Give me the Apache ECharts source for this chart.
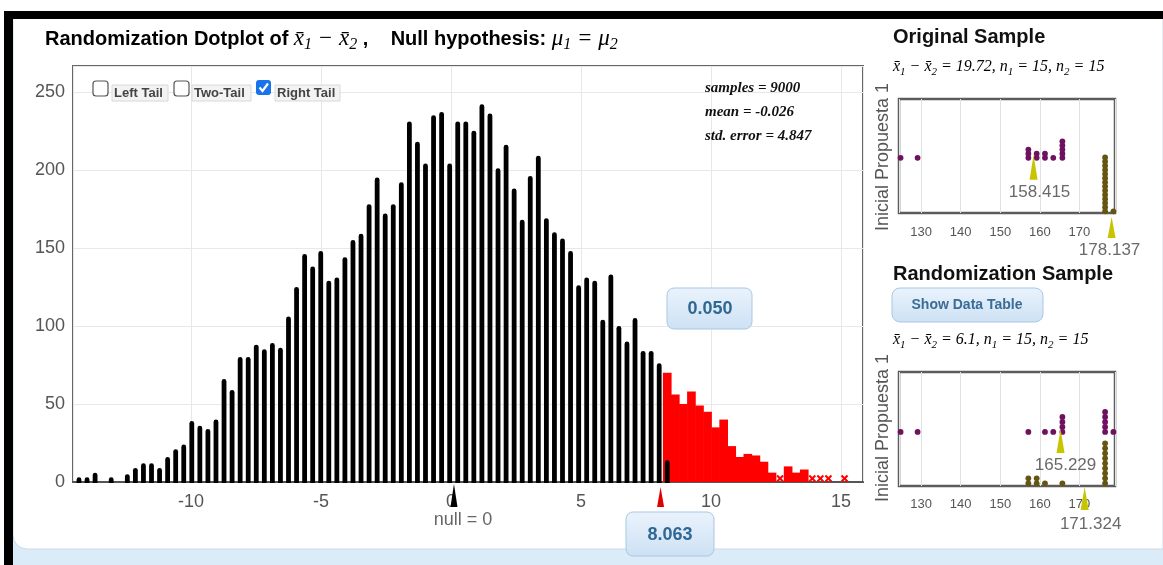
<!DOCTYPE html>
<html><head><meta charset="utf-8">
<script src="https://cdn.jsdelivr.net/npm/echarts@6/dist/echarts.min.js"></script>
<style>html,body{margin:0;padding:0;background:#fff;overflow:hidden}#c{width:1163px;height:565px}</style>
</head><body><div id="c"></div>
<script>
// ================= DATA =================
// Randomization dotplot: dot columns, x = binStart + i*binWidth
const binStart = -14.31;
const binWidth = 0.31;
// column heights (y-axis units) for columns below the cut-off (black dots)
const blackHeights = [3,3,6,0,3,0,5,9,12,12, 9,16,21,24,39,36,34,40,66,59,
  80,80,88,85,89,86,106,125,146,138, 148,129,131,144,155,159,178,195,172,178,
  192,231,218,204,235,237,204,231,231,225, 242,236,201,216,188,168,196,209,169,160,
  156,148,126,131,129,104,133,100,90,105, 84,84,76,14];
// red (right tail) columns start at this column index
const redStartIndex = 73;
const redHeights = [70,56,50,58,49,45,35,40,23,16,18,17,13,6,3,10,6,8,4.5,4,4,0,4];
const nullValue = 0;
const observedStat = 8.063;
const pValue = '0.050';
const statsLines = ['samples = 9000', 'mean = -0.026', 'std. error = 4.847'];
const tailOptions = ['Left Tail', 'Two-Tail', 'Right Tail'];

// Original sample (values per group)
const groupNames = ['Inicial', 'Propuesta 1'];
const origPropuesta = [124.8,129.1,157.1,157.1,157.1,159.2,159.2,161.3,161.3,163.4,165.7,165.7,165.7,165.7,165.7];
const origInicial = [176.5,176.5,176.5,176.5,176.5,176.5,176.5,176.5,176.5,176.5,176.5,176.5,176.5,176.5,178.6];
const origMeans = [158.415, 178.137];   // Propuesta 1, Inicial
// Randomization sample
const randPropuesta = [124.8,129.1,157.1,161.3,163.4,165.7,165.7,165.7,165.7,176.5,176.5,176.5,176.5,176.5,178.6];
const randInicial = [157.1,157.1,159.2,159.2,161.3,165.7,176.5,176.5,176.5,176.5,176.5,176.5,176.5,176.5,176.5];
const randMeans = [165.229, 171.324];
const origStatText = ['19.72', '15', '15'];
const randStatText = ['6.1', '15', '15'];

// ================= BUILD =================
const blackData = blackHeights.map((h, i) => [binStart + i * binWidth, h]);
const redData = redHeights.map((h, i) => [binStart + (redStartIndex + i) * binWidth, h]);

function stackDots(vals, base) {
  const cnt = {};
  return vals.map(v => { const k = v.toFixed(2); cnt[k] = (cnt[k] || 0); const y = base + cnt[k]; cnt[k]++; return [v, y]; });
}
const ORIG_PURPLE_BASE = 12.9, RAND_PURPLE_BASE = 10.3;
const PURPLE = '#701060', OLIVE = '#645612', ARROW = '#c9c400';

const numFont = "'Liberation Sans Narrow','Arial Narrow','Liberation Sans',sans-serif";
const sans = "'Liberation Sans',Arial,sans-serif";
const serif = "'Liberation Serif','Times New Roman',serif";

function mathRich(size, color, tsize) {
  return {
    t: {fontFamily: sans, fontWeight: 'bold', fontSize: tsize || 20, color: '#111', verticalAlign: 'bottom', padding: [0,0,4,0]},
    m: {fontFamily: serif, fontStyle: 'italic', fontSize: size, color: color, verticalAlign: 'bottom', padding: [0,0,3,0]},
    s: {fontFamily: serif, fontStyle: 'italic', fontSize: Math.round(size * 0.7), color: color, verticalAlign: 'bottom'}
  };
}
function statLine(vals) {
  return '{m|x\u0304}{s|1}{m| \u2212 x\u0304}{s|2}{m| = ' + vals[0] + ', n}{s|1}{m| = ' + vals[1] + ', n}{s|2}{m| = ' + vals[2] + '}';
}

function renderBlack(params, api) {
  const x = api.value(0), v = api.value(1);
  if (!v) return null;
  const top = api.coord([x, v]), base = api.coord([x, 0]);
  const w = 4.8;
  return {type: 'rect', shape: {x: top[0] - w / 2, y: top[1], width: w, height: base[1] - top[1] + 1, r: [2.4, 2.4, 0, 0]}, style: {fill: '#000'}};
}
function renderRed(params, api) {
  const x = api.value(0), v = api.value(1);
  if (!v) return null;
  const top = api.coord([x, v]), base = api.coord([x, 0]);
  const w = api.size([binWidth, 0])[0] + 0.6;
  if (v <= 4.5) {
    const c = [top[0], base[1] - 3.5], s = 3;
    return {type: 'group', children: [
      {type: 'line', shape: {x1: c[0]-s, y1: c[1]-s, x2: c[0]+s, y2: c[1]+s}, style: {stroke: '#f00', lineWidth: 2}},
      {type: 'line', shape: {x1: c[0]-s, y1: c[1]+s, x2: c[0]+s, y2: c[1]-s}, style: {stroke: '#f00', lineWidth: 2}}
    ]};
  }
  return {type: 'rect', shape: {x: top[0] - w / 2, y: top[1], width: w, height: base[1] - top[1]}, style: {fill: '#f00'}};
}
function renderAxisMarks(params, api) {
  const x = api.value(0);
  const p = api.coord([x, 0]);
  const col = params.dataIndex === 0 ? '#000' : '#e00000';
  const dy = params.dataIndex === 0 ? 2 : 5;
  const dx = params.dataIndex === 0 ? 3 : 0;
  return {type: 'polygon', shape: {points: [[p[0] + dx, p[1] + dy], [p[0] + dx - 3.5, p[1] + 25], [p[0] + dx + 3.5, p[1] + 25]]}, style: {fill: col}};
}
function makeMeanRender(cfg) {
  return function (params, api) {
    const x = api.value(0), y = api.value(1);
    const i = params.dataIndex;
    const p = api.coord([x, y]);
    const c = cfg[i];
    const tip = p[1] + c.tip, baseY = p[1] + c.base;
    return {type: 'group', children: [
      {type: 'polygon', shape: {points: [[p[0], tip], [p[0] - 4, baseY], [p[0] + 4, baseY]]}, style: {fill: ARROW}},
      {type: 'text', style: {text: api.value(2).toFixed(3), x: p[0] + c.dx, y: baseY + c.ly, fill: '#6a6a6a', font: '17px ' + sans, align: 'center', verticalAlign: 'middle'}}
    ]};
  };
}

const chart = echarts.init(document.getElementById('c'), null, {renderer: 'canvas'});

const smallX = (gi, margin) => ({
  gridIndex: gi, type: 'value', min: 124.4, max: 179, minInterval: 10, maxInterval: 10, splitNumber: 5,
  axisLine: {show: false}, axisTick: {show: false},
  axisLabel: {showMinLabel: false, showMaxLabel: false, color: '#555', fontSize: 13, fontFamily: sans, margin: margin},
  splitLine: {show: true, lineStyle: {color: '#e2e2e2', width: 1}}
});
const dotStyle = c => ({color: c, opacity: 1});

const option = {
  animation: false,
  backgroundColor: '#ffffff',
  grid: [
    {left: 73, top: 66, width: 790, height: 416, show: true, borderColor: '#666', borderWidth: 2, backgroundColor: 'transparent'},
    {left: 899, top: 99, width: 216, height: 114, show: true, borderColor: '#5c5c5c', borderWidth: 2.5},
    {left: 899, top: 372, width: 216, height: 114, show: true, borderColor: '#5c5c5c', borderWidth: 2.5}
  ],
  xAxis: [
    {gridIndex: 0, type: 'value', min: -14.54, max: 15.85, minInterval: 5, maxInterval: 5, splitNumber: 6,
     axisLine: {show: true, onZero: false, lineStyle: {color: '#555', width: 2}}, axisTick: {show: false},
     axisLabel: {showMinLabel: false, showMaxLabel: false, color: '#555', fontSize: 18, fontFamily: numFont, margin: 11},
     splitLine: {show: true, lineStyle: {color: '#e8e8e8', width: 1}}},
    smallX(1, 13),
    smallX(2, 12)
  ],
  yAxis: [
    {gridIndex: 0, type: 'value', min: 0, max: 266.5, interval: 50,
     axisLine: {show: false}, axisTick: {show: false},
     axisLabel: {showMaxLabel: false, color: '#555', fontSize: 18, fontFamily: numFont, margin: 8},
     splitLine: {show: true, lineStyle: {color: '#e8e8e8', width: 1}}},
    {gridIndex: 1, type: 'value', min: -0.4, max: 27.1, show: false, splitLine: {show: false}},
    {gridIndex: 2, type: 'value', min: -0.54, max: 22.3, show: false, splitLine: {show: false}}
  ],
  series: [
    {type: 'custom', name: 'tail', xAxisIndex: 0, yAxisIndex: 0, data: redData, renderItem: renderRed, clip: false, z: 3},
    {type: 'custom', name: 'dots', xAxisIndex: 0, yAxisIndex: 0, data: blackData, renderItem: renderBlack, clip: false, z: 4},
    {type: 'custom', name: 'marks', xAxisIndex: 0, yAxisIndex: 0, data: [[nullValue], [observedStat]], renderItem: renderAxisMarks, clip: false, z: 5},
    {type: 'scatter', xAxisIndex: 1, yAxisIndex: 1, data: stackDots(origPropuesta, ORIG_PURPLE_BASE), symbolSize: 5.8, itemStyle: dotStyle(PURPLE), z: 3},
    {type: 'scatter', xAxisIndex: 1, yAxisIndex: 1, data: stackDots(origInicial, 0), symbolSize: 5.8, itemStyle: dotStyle(OLIVE), z: 3},
    {type: 'scatter', xAxisIndex: 2, yAxisIndex: 2, data: stackDots(randPropuesta, RAND_PURPLE_BASE), symbolSize: 5.8, itemStyle: dotStyle(PURPLE), z: 3},
    {type: 'scatter', xAxisIndex: 2, yAxisIndex: 2, data: stackDots(randInicial, 0), symbolSize: 5.8, itemStyle: dotStyle(OLIVE), z: 3},
    {type: 'custom', xAxisIndex: 1, yAxisIndex: 1, clip: false, z: 5,
     data: [[origMeans[0], ORIG_PURPLE_BASE, origMeans[0]], [origMeans[1], -0.4, origMeans[1]]],
     renderItem: makeMeanRender([{tip: -3, base: 22, ly: 12, dx: 6}, {tip: 4, base: 25, ly: 12, dx: -2}])},
    {type: 'custom', xAxisIndex: 2, yAxisIndex: 2, clip: false, z: 5,
     data: [[randMeans[0], RAND_PURPLE_BASE, randMeans[0]], [randMeans[1], -0.54, randMeans[1]]],
     renderItem: makeMeanRender([{tip: -3, base: 21, ly: 12, dx: 5}, {tip: 1, base: 24, ly: 14, dx: 6}])}
  ],
  graphic: [
    // page frame
    {type: 'rect', z: -10, shape: {x: 13, y: 520, width: 1150, height: 45}, style: {fill: '#dcebf8'}},
    {type: 'rect', z: -9, shape: {x: 13, y: 18, width: 1150, height: 531, r: [0, 0, 0, 14]}, style: {fill: '#fff', stroke: '#c9d9e8', lineWidth: 1}},
    {type: 'rect', z: 20, shape: {x: 4, y: 11, width: 1159, height: 8}, style: {fill: '#000'}},
    {type: 'rect', z: 20, shape: {x: 4, y: 11, width: 9, height: 554}, style: {fill: '#000'}},
    // titles
    {type: 'text', z: 10, style: {x: 45, y: 40, verticalAlign: 'middle',
      text: '{t|Randomization Dotplot of }{m|x\u0304}{s|1}{m| \u2212 x\u0304}{s|2}{t| ,    Null hypothesis: }{m|\u03bc}{s|1}{m| = \u03bc}{s|2}',
      rich: mathRich(23, '#111', 20)}},
    {type: 'text', z: 10, style: {x: 893, y: 37, verticalAlign: 'middle', text: 'Original Sample', font: 'bold 20px ' + sans, fill: '#111'}},
    {type: 'text', z: 10, style: {x: 893, y: 68, verticalAlign: 'middle', text: statLine(origStatText), rich: mathRich(16, '#333')}},
    {type: 'text', z: 10, style: {x: 893, y: 274, verticalAlign: 'middle', text: 'Randomization Sample', font: 'bold 20px ' + sans, fill: '#111'}},
    {type: 'text', z: 10, style: {x: 893, y: 341, verticalAlign: 'middle', text: statLine(randStatText), rich: mathRich(16, '#333')}},
    // rotated group labels
    {type: 'text', z: 10, x: 883, y: 157, rotation: Math.PI / 2, style: {x: 0, y: 0, align: 'center', verticalAlign: 'middle', text: groupNames.join(' '), font: '18px ' + sans, fill: '#555'}},
    {type: 'text', z: 10, x: 883, y: 428, rotation: Math.PI / 2, style: {x: 0, y: 0, align: 'center', verticalAlign: 'middle', text: groupNames.join(' '), font: '18px ' + sans, fill: '#555'}},
    // Show Data Table button
    {type: 'rect', z: 10, shape: {x: 892, y: 288, width: 151, height: 34, r: 8},
     style: {fill: new echarts.graphic.LinearGradient(0, 0, 0, 1, [{offset: 0, color: '#eaf3fc'}, {offset: 1, color: '#cde1f4'}]), stroke: '#a9c7e4', lineWidth: 1}},
    {type: 'text', z: 11, style: {x: 967, y: 305, align: 'center', verticalAlign: 'middle', text: 'Show Data Table', font: 'bold 14px ' + sans, fill: '#3a6c96'}},
    // p-value box
    {type: 'rect', z: 10, shape: {x: 667, y: 288, width: 85, height: 41, r: 7},
     style: {fill: new echarts.graphic.LinearGradient(0, 0, 0, 1, [{offset: 0, color: '#eaf3fc'}, {offset: 1, color: '#cde1f4'}]), stroke: '#a9c7e4', lineWidth: 1}},
    {type: 'text', z: 11, style: {x: 710, y: 309, align: 'center', verticalAlign: 'middle', text: pValue, font: '600 18px ' + sans, fill: '#2f6893'}},
    // observed stat box
    {type: 'rect', z: 10, shape: {x: 626, y: 512, width: 88, height: 44, r: 7},
     style: {fill: new echarts.graphic.LinearGradient(0, 0, 0, 1, [{offset: 0, color: '#eaf3fc'}, {offset: 1, color: '#cde1f4'}]), stroke: '#a9c7e4', lineWidth: 1}},
    {type: 'text', z: 11, style: {x: 670, y: 535, align: 'center', verticalAlign: 'middle', text: observedStat.toFixed(3), font: '600 18px ' + sans, fill: '#2f6893'}},
    {type: 'text', z: 11, style: {x: 463, y: 520, align: 'center', verticalAlign: 'middle', text: 'null = ' + nullValue, font: '18px ' + numFont, fill: '#666'}},
    // stats
    {type: 'text', z: 11, style: {x: 705, y: 88, verticalAlign: 'middle', text: statsLines[0], font: 'italic bold 15px ' + serif, fill: '#111'}},
    {type: 'text', z: 11, style: {x: 705, y: 112, verticalAlign: 'middle', text: statsLines[1], font: 'italic bold 15px ' + serif, fill: '#111'}},
    {type: 'text', z: 11, style: {x: 705, y: 136, verticalAlign: 'middle', text: statsLines[2], font: 'italic bold 15px ' + serif, fill: '#111'}},
    // tail checkboxes
    {type: 'rect', z: 11, shape: {x: 93, y: 81, width: 15, height: 15, r: 3}, style: {fill: '#fff', stroke: '#555', lineWidth: 1.2}},
    {type: 'rect', z: 11, shape: {x: 112, y: 85, width: 56, height: 16}, style: {fill: '#f3f3f3', stroke: '#d8d8d8', lineWidth: 1}},
    {type: 'text', z: 12, style: {x: 114, y: 93, verticalAlign: 'middle', text: tailOptions[0], font: 'bold 13px ' + sans, fill: '#444'}},
    {type: 'rect', z: 11, shape: {x: 174, y: 81, width: 15, height: 15, r: 3}, style: {fill: '#fff', stroke: '#555', lineWidth: 1.2}},
    {type: 'rect', z: 11, shape: {x: 192, y: 85, width: 59, height: 16}, style: {fill: '#f3f3f3', stroke: '#d8d8d8', lineWidth: 1}},
    {type: 'text', z: 12, style: {x: 194, y: 93, verticalAlign: 'middle', text: tailOptions[1], font: 'bold 13px ' + sans, fill: '#444'}},
    {type: 'rect', z: 11, shape: {x: 256, y: 80, width: 15, height: 15, r: 3}, style: {fill: '#1a73e8'}},
    {type: 'polyline', z: 12, shape: {points: [[259.5, 87.5], [262.5, 91], [268, 83.5]]}, style: {stroke: '#fff', lineWidth: 2.2, fill: null}},
    {type: 'rect', z: 11, shape: {x: 275, y: 85, width: 65, height: 16}, style: {fill: '#f3f3f3', stroke: '#d8d8d8', lineWidth: 1}},
    {type: 'text', z: 12, style: {x: 277, y: 93, verticalAlign: 'middle', text: tailOptions[2], font: 'bold 13px ' + sans, fill: '#444'}}
  ]
};
chart.setOption(option);
</script></body></html>
